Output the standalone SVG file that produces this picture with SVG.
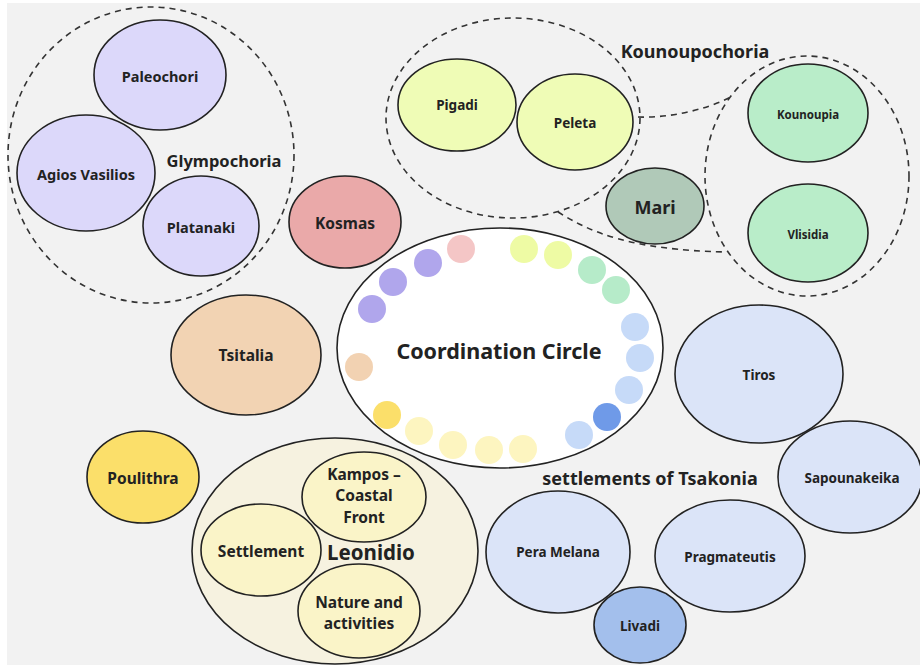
<svg xmlns="http://www.w3.org/2000/svg" width="920" height="665" viewBox="0 0 920 665">
<style>
.n{stroke:#222;stroke-width:1.6}
.d{fill:none;stroke:#333;stroke-width:1.6;stroke-dasharray:6 5}
text{font-family:"Noto Sans","Open Sans","DejaVu Sans",sans-serif;font-weight:700;fill:#222;text-anchor:middle;dominant-baseline:central}
.s11{font-size:11.5px}.s13{font-size:13.5px}.s14{font-size:14.5px}.s15{font-size:15.5px}.s17{font-size:18px}.s20{font-size:20.5px}
.glym{fill:#dcd8fa}.koun{fill:#effcb6}.green{fill:#b9edc9}.tsak{fill:#dbe4f8}.leo{fill:#faf4c8}
</style>
<rect x="0" y="0" width="920" height="665" fill="#ffffff"/>
<rect x="7" y="3" width="913" height="662" fill="#f2f2f2"/>

<g id="groups">
<ellipse class="d" cx="151" cy="155" rx="143" ry="148"/>
<ellipse class="d" cx="513" cy="118" rx="127" ry="100"/>
<ellipse class="d" cx="807" cy="176" rx="102" ry="120"/>
</g>

<g id="connectors">
<path class="d" d="M 638 117 C 670 118, 705 110, 731 97"/>
<path class="d" d="M 558 212 C 590 232, 630 250, 727 252"/>
</g>

<g id="paleochori"><ellipse class="n glym" cx="160" cy="75" rx="66" ry="55"/><text class="s14" x="160" y="76">Paleochori</text></g>
<g id="agios-vasilios"><ellipse class="n glym" cx="86" cy="173" rx="69" ry="58"/><text class="s14" x="86" y="174">Agios Vasilios</text></g>
<g id="platanaki"><ellipse class="n glym" cx="201" cy="226" rx="58" ry="50"/><text class="s14" x="201" y="227">Platanaki</text></g>
<g id="glympochoria"><text style="font-size:16.5px" x="224" y="160">Glympochoria</text></g>

<g id="kosmas"><ellipse class="n" fill="#eaa9a9" cx="345" cy="222" rx="56" ry="46"/><text class="s15" x="345" y="223">Kosmas</text></g>
<g id="tsitalia"><ellipse class="n" fill="#f2d3b3" cx="246" cy="355" rx="75" ry="60"/><text class="s15" x="246" y="355">Tsitalia</text></g>

<g id="coordination-circle">
<ellipse class="n" fill="#ffffff" cx="500" cy="348" rx="163" ry="120"/>
<circle cx="461" cy="249" r="14" fill="#f4c6c6"/>
<circle cx="428" cy="263" r="14" fill="#b0a6ec"/>
<circle cx="393" cy="282" r="14" fill="#b0a6ec"/>
<circle cx="372" cy="309" r="14" fill="#b0a6ec"/>
<circle cx="359" cy="367" r="14" fill="#f2d2b2"/>
<circle cx="387" cy="415" r="14" fill="#fbdf6a"/>
<circle cx="419" cy="431" r="14" fill="#fdf5c0"/>
<circle cx="453" cy="445" r="14" fill="#fdf5c0"/>
<circle cx="489" cy="450" r="14" fill="#fdf5c0"/>
<circle cx="523" cy="449" r="14" fill="#fdf5c0"/>
<circle cx="579" cy="435" r="14" fill="#c6daf8"/>
<circle cx="607" cy="417" r="14" fill="#6f9ae8"/>
<circle cx="629" cy="390" r="14" fill="#c6daf8"/>
<circle cx="640" cy="358" r="14" fill="#c6daf8"/>
<circle cx="635" cy="327" r="14" fill="#c6daf8"/>
<circle cx="616" cy="290" r="14" fill="#b6ebc9"/>
<circle cx="592" cy="270" r="14" fill="#b6ebc9"/>
<circle cx="558" cy="255" r="14" fill="#eefba4"/>
<circle cx="524" cy="249" r="14" fill="#eefba4"/>
<text style="font-size:21.5px" x="499" y="350">Coordination Circle</text>
</g>

<g id="pigadi"><ellipse class="n koun" cx="457" cy="105" rx="59" ry="46"/><text class="s13" x="457" y="105">Pigadi</text></g>
<g id="peleta"><ellipse class="n koun" cx="575" cy="122" rx="58" ry="48"/><text class="s13" x="575" y="123">Peleta</text></g>
<g id="kounoupochoria"><text class="s17" x="695" y="51">Kounoupochoria</text></g>
<g id="mari"><ellipse class="n" fill="#b0c9b8" cx="655" cy="206" rx="49" ry="38"/><text class="s17" x="655" y="207">Mari</text></g>
<g id="kounoupia"><ellipse class="n green" cx="808" cy="113" rx="60" ry="49"/><text class="s11" x="808" y="114">Kounoupia</text></g>
<g id="vlisidia"><ellipse class="n green" cx="808" cy="233" rx="60" ry="49"/><text class="s11" x="808" y="234">Vlisidia</text></g>

<g id="tiros"><ellipse class="n tsak" cx="759" cy="374" rx="84" ry="69"/><text class="s13" x="759" y="375">Tiros</text></g>
<g id="sapounakeika"><ellipse class="n tsak" cx="850" cy="477" rx="72" ry="56"/><text class="s13" x="852" y="478">Sapounakeika</text></g>
<g id="settlements-of-tsakonia"><text class="s17" x="650" y="478">settlements of Tsakonia</text></g>
<g id="pera-melana"><ellipse class="n tsak" cx="558" cy="552" rx="72" ry="61"/><text class="s13" x="558" y="552">Pera Melana</text></g>
<g id="pragmateutis"><ellipse class="n tsak" cx="730" cy="556" rx="75" ry="56"/><text class="s13" x="730" y="557">Pragmateutis</text></g>
<g id="livadi"><ellipse class="n" fill="#a3bfec" cx="640" cy="625" rx="46" ry="38"/><text class="s13" x="640" y="626">Livadi</text></g>

<g id="poulithra"><ellipse class="n" fill="#fbdf6a" cx="143" cy="477" rx="56" ry="46"/><text class="s15" x="143" y="478">Poulithra</text></g>
<g id="leonidio">
<ellipse class="n" fill="#f6f2e0" cx="335" cy="551" rx="143" ry="113"/>
<text class="s20" x="371" y="552">Leonidio</text>
</g>
<g id="kampos"><ellipse class="n leo" cx="364" cy="497" rx="62" ry="45"/><text class="s15" x="364" y="474">Kampos –</text><text class="s15" x="364" y="495">Coastal</text><text class="s15" x="364" y="517">Front</text></g>
<g id="settlement"><ellipse class="n leo" cx="261" cy="550" rx="60" ry="46"/><text class="s15" x="261" y="551">Settlement</text></g>
<g id="nature"><ellipse class="n leo" cx="359" cy="611" rx="61" ry="47"/><text class="s15" x="359" y="602">Nature and</text><text class="s15" x="359" y="623">activities</text></g>
</svg>
